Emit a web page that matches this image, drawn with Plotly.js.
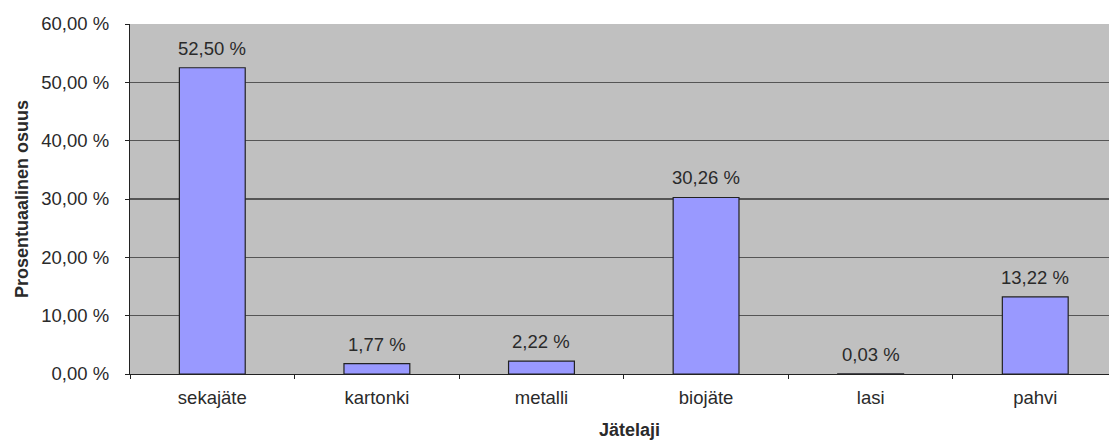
<!DOCTYPE html>
<html>
<head>
<meta charset="utf-8">
<script src="https://cdn.plot.ly/plotly-3.0.1.min.js"></script>
<style>html,body{margin:0;padding:0;background:#fff;}#chart{width:1109px;height:442px;}</style>
</head>
<body>
<div id="chart"></div>
<script>
const categories = ["sekajäte", "kartonki", "metalli", "biojäte", "lasi", "pahvi"];
const shares = [52.50, 1.77, 2.22, 30.26, 0.03, 13.22];
const yTickValues = [0, 10, 20, 30, 40, 50, 60];

const fmt = v => v.toFixed(2).replace(".", ",") + " %";
const font = "Liberation Sans, Arial, sans-serif";
const textColor = "#2a2a2a";
const fs = 18.5;

const annotations = categories.map((c, i) => ({
  x: c, y: shares[i], xref: "x", yref: "y",
  text: fmt(shares[i]), showarrow: false,
  yanchor: "bottom", yshift: 7,
  font: {family: font, size: fs, color: textColor}
}));
annotations.push({
  xref: "paper", yref: "paper", x: 0.51, y: -0.16,
  xanchor: "center", yanchor: "middle", showarrow: false,
  text: "<b>Jätelaji</b>",
  font: {family: font, size: 18, color: textColor}
});

Plotly.newPlot("chart", [{
  type: "bar",
  x: categories,
  y: shares,
  marker: {color: "#9999ff", line: {color: "#222", width: 1.2}},
  width: 0.40,
  hoverinfo: "none"
}], {
  width: 1109, height: 442,
  margin: {l: 130, r: 0, t: 24, b: 68},
  paper_bgcolor: "#ffffff",
  plot_bgcolor: "#c0c0c0",
  showlegend: false,
  annotations: annotations,
  font: {family: font, size: fs, color: textColor},
  xaxis: {
    range: [-0.5, 5.448],
    tickson: "boundaries",
    ticks: "outside", ticklen: 4, tickcolor: "#222",
    ticklabelstandoff: 7,
    showline: true, linecolor: "#222", linewidth: 1.2,
    showgrid: false,
    tickfont: {family: font, size: fs, color: textColor}
  },
  yaxis: {
    title: {text: "<b>Prosentuaalinen osuus</b>", font: {family: font, size: 18, color: textColor}, standoff: 8},
    range: [0, 60],
    tickmode: "array",
    tickvals: yTickValues,
    ticktext: yTickValues.map(fmt),
    ticks: "outside", ticklen: 4, tickcolor: "#222",
    ticklabelstandoff: 12,
    showline: true, linecolor: "#222", linewidth: 1.2,
    showgrid: true, gridcolor: "#555", gridwidth: 1.2,
    zeroline: false,
    tickfont: {family: font, size: fs, color: textColor}
  }
}, {staticPlot: true});
</script>
</body>
</html>
